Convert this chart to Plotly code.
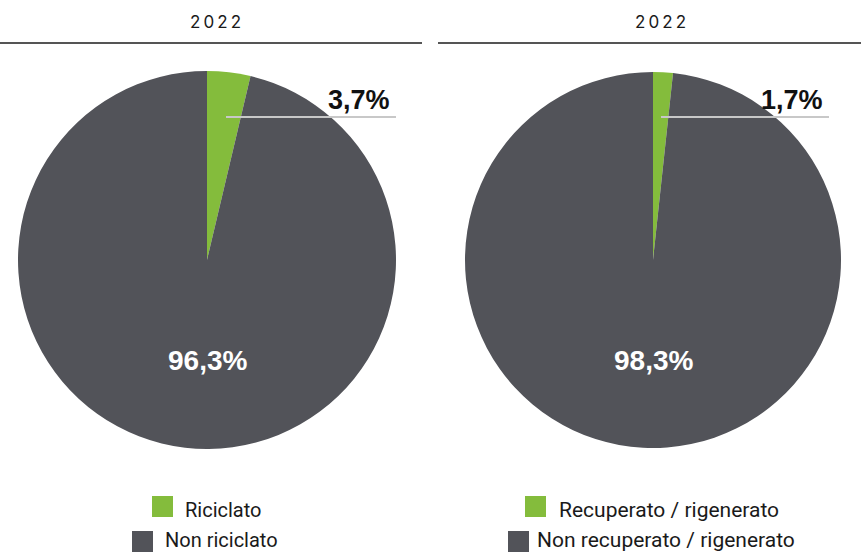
import plotly.graph_objects as go

W, H = 861, 553
titles = ["2022", "2022"]
labels_left = ["Riciclato", "Non riciclato"]
labels_right = ["Recuperato / rigenerato", "Non recuperato / rigenerato"]
values_left = [3.7, 96.3]
values_right = [1.7, 98.3]
colors = ["#84bc3c", "#525359"]

def px(x):
    return x / W

def py(y):
    return 1 - y / H

def fmt(v):
    return f"{v:.1f}".replace(".", ",") + "%"

def spaced(s):
    return "\u2009".join(s)

fig = go.Figure()
panels = [
    dict(labels=labels_left, values=values_left, x0=18, x1=396, title_x=215, line=(0, 422),
         lead=(226, 396), legend=[(152, 183), (132, 163)], lsize=20),
    dict(labels=labels_right, values=values_right, x0=465, x1=841, title_x=660, line=(438, 861),
         lead=(661, 829), legend=[(525, 557), (508, 535)], lsize=21),
]

shapes = []
annotations = []
for i, p in enumerate(panels):
    fig.add_trace(go.Pie(
        labels=p["labels"], values=p["values"], sort=False, direction="clockwise", rotation=0,
        marker=dict(colors=colors, line=dict(width=0)), textinfo="none", hoverinfo="label+percent",
        domain=dict(x=[px(p["x0"]), px(p["x1"])], y=[py(449), py(71)]), showlegend=False,
    ))
    cx = (p["x0"] + p["x1"]) / 2
    annotations.append(dict(x=px(p["title_x"]), y=py(22), xref="paper", yref="paper", text=spaced(titles[i]),
                            showarrow=False, font=dict(family="Inter, Roboto", size=17, color="#1a1a1a"),
                            xanchor="center", yanchor="middle"))
    shapes.append(dict(type="line", xref="paper", yref="paper", x0=px(p["line"][0]), x1=px(p["line"][1]),
                       y0=py(43), y1=py(43), line=dict(color="#555555", width=2)))
    annotations.append(dict(x=px(cx), y=py(360), xref="paper", yref="paper", text="<b>" + fmt(p["values"][1]) + "</b>",
                            showarrow=False, font=dict(family="Liberation Sans, Arial", size=28, color="white"),
                            xanchor="center", yanchor="middle"))
    shapes.append(dict(type="line", xref="paper", yref="paper", x0=px(p["lead"][0]), x1=px(p["lead"][1]),
                       y0=py(117), y1=py(117), line=dict(color="#c8c8c8", width=2)))
    annotations.append(dict(x=px(p["lead"][1] - 4), y=py(100), xref="paper", yref="paper",
                            text="<b>" + fmt(p["values"][0]) + "</b>",
                            showarrow=False, font=dict(family="Liberation Sans, Arial", size=27, color="#111111"),
                            xanchor="right", yanchor="middle"))
    for j, (sq, tx) in enumerate(p["legend"]):
        ytop = 496 + j * 35
        ytext = 510 + j * 30
        shapes.append(dict(type="rect", xref="paper", yref="paper", x0=px(sq), x1=px(sq + 21),
                           y0=py(ytop + 21), y1=py(ytop), fillcolor=colors[j], line=dict(width=0)))
        annotations.append(dict(x=px(tx), y=py(ytext), xref="paper", yref="paper", text=p["labels"][j],
                                showarrow=False, font=dict(family="Roboto", size=p["lsize"], color="#1a1a1a"),
                                xanchor="left", yanchor="middle"))

fig.update_layout(width=W, height=H, margin=dict(l=0, r=0, t=0, b=0), paper_bgcolor="white",
                  plot_bgcolor="white", shapes=shapes, annotations=annotations)
fig.write_html("out.html", config={"displayModeBar": False},
               post_script="document.body.style.margin='0';document.body.style.overflow='hidden';")
